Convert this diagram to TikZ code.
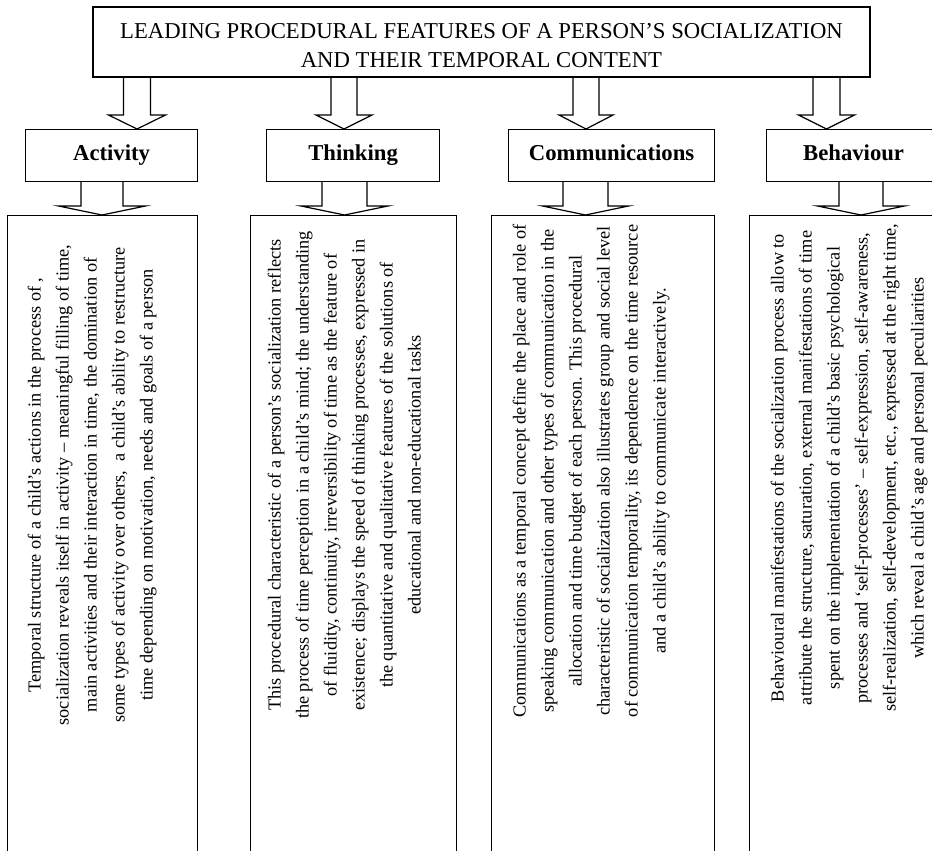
\documentclass[tikz,border=0pt]{standalone}
\usepackage{fontspec}
\setmainfont{Liberation Serif}
\usetikzlibrary{calc}
\newcommand\blockarr[6]{%
  \draw[barrow] ({#3-#4},0 |- #1.south)
    -- ($({#3-#4},0 |- #2.north)+(0,-#6)$)
    -- ($({#3-#5},0 |- #2.north)+(0,-#6)$)
    -- ({#3},0 |- #2.north)
    -- ($({#3+#5},0 |- #2.north)+(0,-#6)$)
    -- ($({#3+#4},0 |- #2.north)+(0,-#6)$)
    -- ({#3+#4},0 |- #1.south);}
\begin{document}
\begin{tikzpicture}[x=1pt,y=-1pt,
  box/.style={draw, line width=1.2pt, inner sep=0pt},
  barrow/.style={draw, line width=1.2pt, line join=miter},
  hdr/.style={box, minimum height=52pt, anchor=north west, text height=15pt, text depth=5pt, font=\fontsize{22.7}{26}\selectfont\bfseries},
  tbox/.style={box, minimum height=700pt, anchor=north west},
  vtext/.style={rotate=90, anchor=north, align=center, inner sep=0pt, font=\fontsize{18.3}{28}\selectfont}]
\useasboundingbox (0,0) rectangle (932,851);
\node[box, minimum width=777pt, minimum height=70pt] (title) at (481.5,42) {};
\node[align=center, inner sep=0pt, font=\fontsize{22.7}{29.5}\selectfont] (titlet) at (481.5,45.5)
  {LEADING PROCEDURAL FEATURES OF A PERSON’S SOCIALIZATION\\AND THEIR TEMPORAL CONTENT};
% headers
\node[hdr, minimum width=172pt] (act) at (25,129) {Activity};
\node[hdr, minimum width=173pt] (thi) at (266,129) {Thinking};
\node[hdr, minimum width=206pt] (com) at (508,129) {Communications};
\node[hdr, minimum width=174pt] (beh) at (766,129) {Behaviour};
% text boxes
\node[tbox, minimum width=190pt] (actb) at (7,215) {};
\node[tbox, minimum width=206pt] (thib) at (250,215) {};
\node[tbox, minimum width=223pt] (comb) at (491,215) {};
\node[tbox, minimum width=196pt] (behb) at (749,215) {};
% texts
\node[vtext] (actt) at (27.5,485) {Temporal structure of a child’s actions in the process of ,\\
socialization reveals itself in activity – meaningful filling of time,\\
main activities and their interaction in time, the domination of\\
some types of activity over others,\ \ a child’s ability to restructure\\
time depending on motivation, needs and goals of a person};
\node[vtext] (thit) at (267.5,475) {This procedural characteristic of a person’s socialization reflects\\
the process of time perception in a child’s mind; the understanding\\
of fluidity, continuity, irreversibility of time as the feature of\\
existence; displays the speed of thinking processes, expressed in\\
the quantitative and qualitative features of the solutions of\\
educational and non-educational tasks};
\node[vtext] (comt) at (512.5,471) {Communications as a temporal concept define the place and role of\\
speaking communication and other types of communication in the\\
allocation and time budget of each person. This procedural\\
characteristic of socialization also illustrates group and social level\\
of communication temporality, its dependence on the time resource\\
and a child’s ability to communicate interactively.};
\node[vtext] (beht) at (770.5,468) {Behavioural manifestations of the socialization process allow to\\
attribute the structure, saturation, external manifestations of time\\
spent on the implementation of a child’s basic psychological\\
processes and ‘self-processes’ – self-expression, self-awareness,\\
self-realization, self-development, etc., expressed at the right time,\\
which reveal a child’s age and personal peculiarities};
% block arrows: title -> headers
\blockarr{title}{act}{137}{13.5}{28.5}{14}
\blockarr{title}{thi}{344}{13}{28}{14}
\blockarr{title}{com}{586}{13}{27}{14}
\blockarr{title}{beh}{826.5}{13.5}{28}{14}
% block arrows: headers -> text boxes
\blockarr{act}{actb}{102}{21}{43.5}{9}
\blockarr{thi}{thib}{344.5}{22.5}{43.5}{9}
\blockarr{com}{comb}{585.5}{22.5}{43}{9}
\blockarr{beh}{behb}{861}{22}{43.5}{9}
\end{tikzpicture}
\end{document}
